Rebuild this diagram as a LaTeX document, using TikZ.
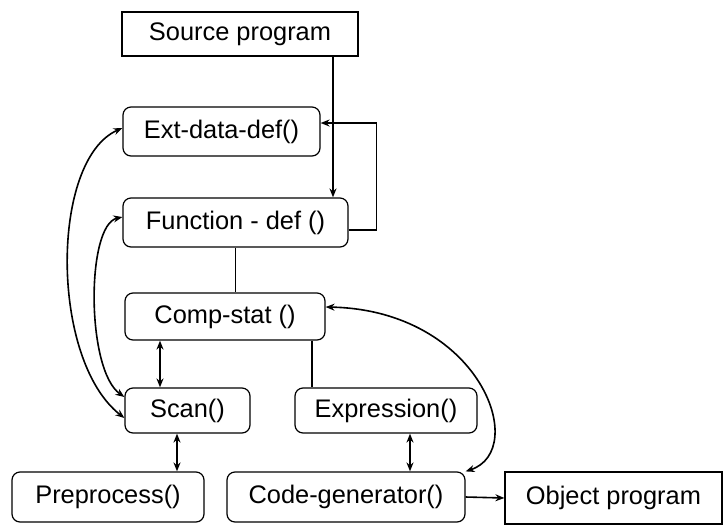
\documentclass[tikz,border=0pt]{standalone}
\usepackage{fontspec}
\setsansfont{Liberation Sans}
\usetikzlibrary{arrows.meta}

\begin{document}
\begin{tikzpicture}[x=0.5pt, y=-0.5pt, >={Stealth[length=4.5pt,width=3.5pt]}, line width=0.8pt,
	main node/.style={draw, line width=0.6pt, rounded corners=4pt, inner sep=0pt, font=\sffamily\fontsize{12.7}{15}\selectfont},
	end node/.style={main node, sharp corners}]
	\useasboundingbox (0,0) rectangle (725,527);
	\node[end node, minimum width=118pt, minimum height=22pt] (src) at (240,34) {Source program};
	\node[main node, minimum width=98.5pt, minimum height=24.5pt] (ext) at (221.5,131.5) {Ext-data-def()};
	\node[main node, minimum width=112.5pt, minimum height=24.5pt] (func) at (235.5,222.5) {Function - def ()};
	\node[main node, minimum width=100pt, minimum height=23.5pt] (comp) at (225,316.5) {Comp-stat ()};
	\node[main node, minimum width=62.5pt, minimum height=22.5pt] (scan) at (187.5,410.5) {Scan()};
	\node[main node, minimum width=91pt, minimum height=22.5pt] (expr) at (386,410.5) {Expression()};
	\node[main node, minimum width=96pt, minimum height=25pt] (pre) at (108,497) {Preprocess()};
	\node[main node, minimum width=119pt, minimum height=25pt] (code) at (346,497) {Code-generator()};
	\node[end node, minimum width=108.5pt, minimum height=26pt] (obj) at (613.5,498) {Object program};
	\coordinate (down) at (333,0);
	\coordinate (cs) at (160,0);
	\coordinate (ce) at (312,0);
	\coordinate (sp) at (177,0);
	\coordinate (ec) at (410,0);
	\draw[->] (src.south -| down) -- (func.north -| down);
	\draw[->] ([yshift=-3.75pt]func.east) -- ++(28,0) |- ([yshift=4.25pt]ext.east);
	\draw (func.south) -- (func.south |- comp.north);
	\draw[<->] (comp.south -| cs) -- (scan.north -| cs);
	\draw (comp.south -| ce) -- (expr.north -| ce);
	\draw[<->] (scan.south -| sp) -- (pre.north -| sp);
	\draw[<->] (expr.south -| ec) -- (code.north -| ec);
	\draw[->] (code.east) -- (obj.west);
	\draw[<->] ([yshift=-3.75pt]scan.west) .. controls (50,360) and (50,160) .. ([yshift=1.75pt]ext.west);
	\draw[<->] ([yshift=6.75pt]scan.west) .. controls (86,370) and (86,225) .. ([yshift=2.75pt]func.west);
	\draw[<->] ([yshift=4.75pt]comp.east) .. controls (480,310) and (530,450) .. (code.north east);
\end{tikzpicture}
\end{document}
